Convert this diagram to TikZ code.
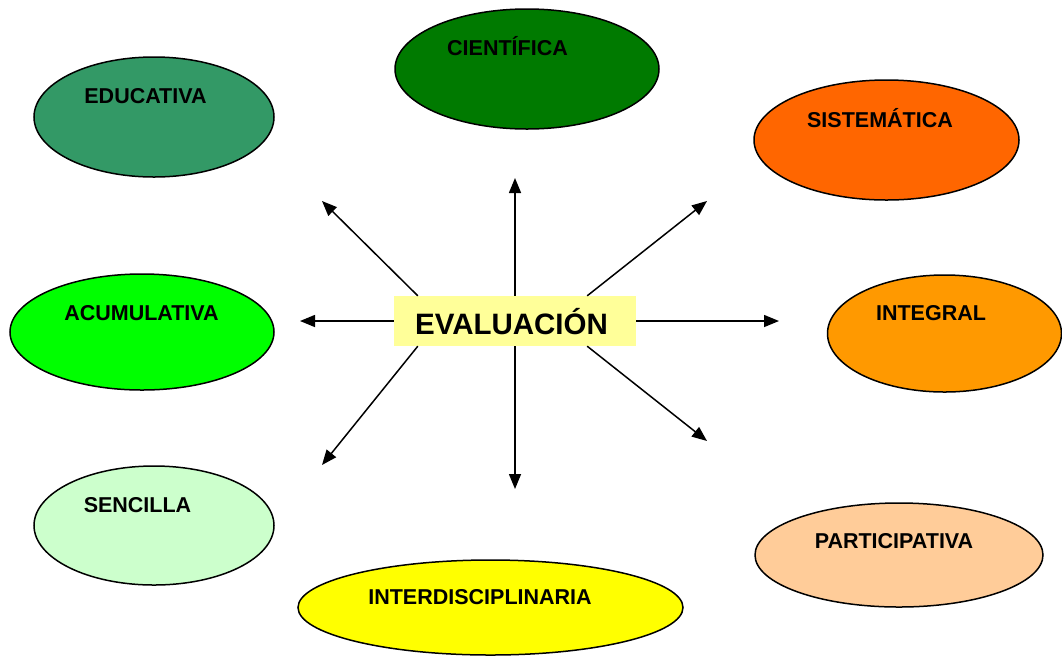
\documentclass[tikz,border=0pt]{standalone}
\usepackage{fontspec}
\setmainfont{Liberation Sans}
\usetikzlibrary{shapes.geometric,arrows.meta,calc}
\definecolor{cEdu}{HTML}{339966}
\definecolor{cCie}{HTML}{007A00}
\definecolor{cSis}{HTML}{FF6600}
\definecolor{cAcu}{HTML}{00FF00}
\definecolor{cInt}{HTML}{FF9900}
\definecolor{cSen}{HTML}{CCFFCC}
\definecolor{cPar}{HTML}{FFCC99}
\definecolor{cIdi}{HTML}{FFFF00}
\definecolor{cBox}{HTML}{FFFF99}
\begin{document}
\begin{tikzpicture}[x=1pt,y=-1pt,
  oval/.style={ellipse,draw=black,line width=1.5pt,inner sep=0pt},
  lbl/.style={anchor=base,inner sep=0pt,font=\fontsize{21.5}{25}\selectfont\bfseries},
  conn/.style={line width=1.5pt,-{Triangle[length=15pt,width=12pt]}}]
\useasboundingbox (0,0) rectangle (1062,657);
% ellipses
\node[oval,fill=cEdu,minimum width=240pt,minimum height=120pt] (edu) at (154,117) {};
\node[oval,fill=cCie,minimum width=264pt,minimum height=120pt] (cie) at (527,69) {};
\node[oval,fill=cSis,minimum width=265pt,minimum height=120pt] (sis) at (886.5,140) {};
\node[oval,fill=cAcu,minimum width=264pt,minimum height=116pt] (acu) at (142,332) {};
\node[oval,fill=cInt,minimum width=234pt,minimum height=117pt] (int) at (944.5,333.5) {};
\node[oval,fill=cSen,minimum width=240pt,minimum height=119pt] (sen) at (154,525.5) {};
\node[oval,fill=cPar,minimum width=288pt,minimum height=104pt] (par) at (899,555) {};
\node[oval,fill=cIdi,minimum width=385pt,minimum height=95pt] (idi) at (490.5,607.5) {};
% labels
\node[lbl] (tedu) at (145.5,103) {EDUCATIVA};
\node[lbl] (tcie) at (507.5,55) {CIENTÍFICA};
\node[lbl] (tsis) at (880,127) {SISTEMÁTICA};
\node[lbl] (tacu) at (141.5,320) {ACUMULATIVA};
\node[lbl] (tint) at (931,320) {INTEGRAL};
\node[lbl] (tsen) at (137.5,512) {SENCILLA};
\node[lbl] (tpar) at (894,548) {PARTICIPATIVA};
\node[lbl] (tidi) at (480,604) {INTERDISCIPLINARIA};
% centre box
\node[fill=cBox,minimum width=242pt,minimum height=50pt,inner sep=0pt] (ev) at (515,321) {};
\node[anchor=base,inner sep=0pt,font=\fontsize{29.5}{34}\selectfont\bfseries] (evt) at (511.5,334) {EVALUACIÓN};
% arrow ends
\coordinate (eU) at (515,178);
\coordinate (eD) at (515,489);
\coordinate (eL) at (300,321);
\coordinate (eR) at (779,321);
\coordinate (eUL) at (322,201);
\coordinate (eUR) at (707,201);
\coordinate (eDL) at (322,465);
\coordinate (eDR) at (707,441);
% arrows
\draw[conn] (ev.north) -- (eU);
\draw[conn] (ev.south) -- (eD);
\draw[conn] (ev.west) -- (eL);
\draw[conn] (ev.east) -- (eR);
\draw[conn] ($(ev.north west)+(24,0)$) -- (eUL);
\draw[conn] ($(ev.north east)+(-49,0)$) -- (eUR);
\draw[conn] ($(ev.south west)+(24,0)$) -- (eDL);
\draw[conn] ($(ev.south east)+(-49,0)$) -- (eDR);
\end{tikzpicture}
\end{document}
